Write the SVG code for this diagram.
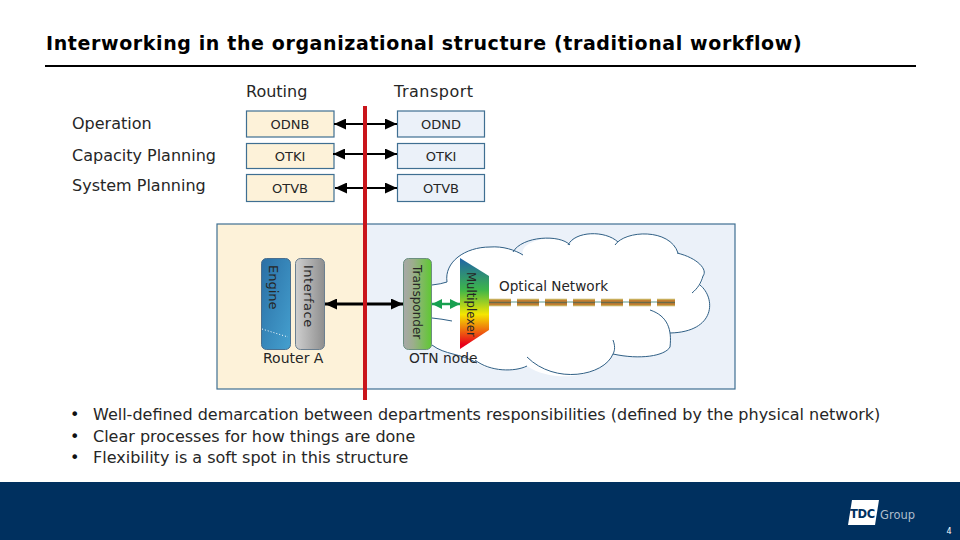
<svg xmlns="http://www.w3.org/2000/svg" width="960" height="540" viewBox="0 0 960 540">
<style>
text{font-family:"DejaVu Sans",Verdana,sans-serif;fill:#262626}
.lab{font-size:16px}
.box{font-size:13px;text-anchor:middle}
.rt{fill:#fdf2d9;stroke:#3f6f92;stroke-width:1.2}
.tr{fill:#ebf1f9;stroke:#3f6f92;stroke-width:1.2}
.arr{stroke:#000;stroke-width:2;fill:none;marker-start:url(#hs);marker-end:url(#he)}
.cl{fill:none;stroke:#2f5f85;stroke-width:1}
.bul{font-size:16px}
.dot{font-size:16px;fill:#111}
</style>
<defs>
<marker id="he" markerUnits="userSpaceOnUse" markerWidth="14" markerHeight="12" refX="12" refY="5.500" orient="auto"><path d="M0 0L12 5.500L0 11Z" fill="#000"/></marker>
<marker id="hs" markerUnits="userSpaceOnUse" markerWidth="14" markerHeight="12" refX="0" refY="5.500" orient="auto"><path d="M12 0L0 5.500L12 11Z" fill="#000"/></marker>
<marker id="ge" markerUnits="userSpaceOnUse" markerWidth="14" markerHeight="12" refX="10" refY="5" orient="auto"><path d="M0 0L10 5L0 10Z" fill="#18a050"/></marker>
<marker id="gs" markerUnits="userSpaceOnUse" markerWidth="14" markerHeight="12" refX="0" refY="5" orient="auto"><path d="M10 0L0 5L10 10Z" fill="#18a050"/></marker>
<linearGradient id="eng" x1="0" y1="0" x2="1" y2="1"><stop offset="0" stop-color="#2a6fa5"/><stop offset="1" stop-color="#45a0cf"/></linearGradient>
<linearGradient id="ifc" x1="0" y1="0" x2="1" y2="0"><stop offset="0" stop-color="#cfcfcf"/><stop offset="1" stop-color="#8e8e8e"/></linearGradient>
<linearGradient id="tsp" x1="0" y1="0" x2="1" y2="0"><stop offset="0" stop-color="#a8a8a8"/><stop offset=".35" stop-color="#9cae8c"/><stop offset="1" stop-color="#5fc832"/></linearGradient>
<linearGradient id="mux" x1="0" y1="0" x2="0" y2="1"><stop offset="0" stop-color="#1f63a8"/><stop offset="0.35" stop-color="#3db54a"/><stop offset="0.62" stop-color="#f5e600"/><stop offset="0.95" stop-color="#e8001a"/></linearGradient>
</defs>

<g id="title">
<text x="46" y="50" style="font-size:19px;font-weight:bold;letter-spacing:.61px;fill:#000">Interworking in the organizational structure (traditional workflow)</text>
<rect x="45" y="65" width="871" height="2" fill="#000"/>
</g>

<g id="row-labels">
<text class="lab" x="246" y="97">Routing</text>
<text class="lab" x="394" y="97" style="letter-spacing:.5px">Transport</text>
<text class="lab" x="72" y="128.500">Operation</text>
<text class="lab" x="72" y="160.500">Capacity Planning</text>
<text class="lab" x="72" y="190.500">System Planning</text>
</g>

<g id="node-odnb"><rect class="rt" x="246.500" y="111" width="87.500" height="26"/><text class="box" x="290" y="129">ODNB</text></g>
<g id="node-odnd"><rect class="tr" x="397.500" y="111" width="87" height="26"/><text class="box" x="441" y="129">ODND</text></g>
<g id="node-otki-r"><rect class="rt" x="246.500" y="143.500" width="87.500" height="25"/><text class="box" x="290" y="161">OTKI</text></g>
<g id="node-otki-t"><rect class="tr" x="397.500" y="143.500" width="87" height="25"/><text class="box" x="441" y="161">OTKI</text></g>
<g id="node-otvb-r"><rect class="rt" x="246.500" y="174.500" width="87.500" height="27"/><text class="box" x="290" y="193">OTVB</text></g>
<g id="node-otvb-t"><rect class="tr" x="397.500" y="174.500" width="87" height="27"/><text class="box" x="441" y="193">OTVB</text></g>

<g id="panels">
<rect x="217" y="224" width="148" height="165" fill="#fdf2d9"/>
<rect x="365" y="224" width="370" height="165" fill="#ebf1f9"/>
<rect x="217" y="224" width="518" height="165" fill="none" stroke="#3f6f92" stroke-width="1.2"/>
</g>

<g id="cloud">
<path d="M432 285L447 282C444 262 465 247 490 247C503 246 515 250 523 255C518 240 560 232 570 245C575 231 605 230 618 242C625 230 670 228 678 253C698 258 708 270 703 276C703 282 700 285 700 285C716 298 716 332 670 333C672 338 671 343 670 347C665 356 640 360 613 354C604 376 555 385 527 366C515 372 490 372 477 363C460 353 445 355 432 345Z" fill="#fff"/>
<path class="cl" d="M432 285Q441 284 447 282C444 262 465 247 490 247C503 246 515 250 523 255"/>
<path class="cl" d="M513 252C522 236 560 234 570 245"/>
<path class="cl" d="M568 245C575 231 605 230 618 242"/>
<path class="cl" d="M615 245C625 230 670 228 678 253"/>
<path class="cl" d="M677 253C698 258 708 270 703 276C701 283 698 288 692 293"/>
<path class="cl" d="M700 285C716 298 716 332 670 333"/>
<path class="cl" d="M650 310C668 316 672 330 670 347C665 356 640 360 613 354"/>
<path class="cl" d="M613 340C616 348 614 352 613 354C604 376 555 385 527 357"/>
<path class="cl" d="M527 366C515 372 490 372 475 360"/>
<path class="cl" d="M432 345C445 355 460 353 477 363"/>
<path class="cl" d="M432 318Q442 319 452 321"/>
</g>

<g id="node-optical-line">
<line x1="489" y1="302" x2="675" y2="302" stroke="#5f9a8c" stroke-width="1.200"/>
<g fill="none" stroke-dasharray="22 6">
<line x1="489" y1="302.500" x2="675" y2="302.500" stroke="#c8ad5a" stroke-width="7.500"/>
<line x1="489" y1="302.500" x2="675" y2="302.500" stroke="#c47f30" stroke-width="5"/>
<line x1="489" y1="302.500" x2="675" y2="302.500" stroke="#6a6a48" stroke-width="1.600"/>
</g>
<text x="499" y="291" style="font-size:13.600px">Optical Network</text>
</g>

<g id="connectors">
<line class="arr" x1="334" y1="124" x2="397" y2="124"/>
<line class="arr" x1="333" y1="154" x2="397" y2="154"/>
<line class="arr" x1="335" y1="188" x2="397" y2="188"/>
<line x1="325" y1="304" x2="403" y2="304" stroke="#000" stroke-width="3" marker-start="url(#hs)" marker-end="url(#he)"/>
<line x1="432" y1="304" x2="460" y2="304" stroke="#18a050" stroke-width="2.500" marker-start="url(#gs)" marker-end="url(#ge)"/>
</g>

<g id="node-engine">
<rect x="261.500" y="258.500" width="29" height="91" rx="5" fill="url(#eng)" stroke="#4a6f8f"/>
<path d="M262 329L288 337" stroke="#fff" stroke-width="1" stroke-dasharray="1 2" fill="none"/>
<text transform="translate(268.500,265) rotate(90)" style="font-size:13px">Engine</text>
</g>
<g id="node-interface">
<rect x="295.500" y="258.500" width="29" height="91" rx="5" fill="url(#ifc)" stroke="#6b7f8f"/>
<text transform="translate(304,265) rotate(90)" style="font-size:13px;letter-spacing:.5px">Interface</text>
</g>
<g id="node-transponder">
<rect x="403.500" y="258.500" width="28" height="91" rx="5" fill="url(#tsp)" stroke="#6b8f7f"/>
<text transform="translate(413,265) rotate(90)" style="font-size:12px">Transponder</text>
</g>
<g id="node-multiplexer">
<path d="M460 258L489 276V330L460 349Z" fill="url(#mux)"/>
<text transform="translate(467,272) rotate(90)" style="font-size:11.700px">Multiplexer</text>
</g>
<text x="263" y="363" style="font-size:14px">Router A</text>
<text x="409" y="363" style="font-size:13.800px">OTN node</text>

<rect id="demarcation" x="363" y="106" width="4" height="294" fill="#c9151b"/>

<g id="bullets">
<text class="dot" x="70" y="420">•</text><text class="bul" x="93" y="420">Well-defined demarcation between departments responsibilities (defined by the physical network)</text>
<text class="dot" x="70" y="442">•</text><text class="bul" x="93" y="442">Clear processes for how things are done</text>
<text class="dot" x="70" y="463">•</text><text class="bul" x="93" y="463">Flexibility is a soft spot in this structure</text>
</g>

<g id="footer">
<rect x="0" y="482" width="960" height="58" fill="#00305f"/>
<path d="M852 500H879L875 525H848Z" fill="#fff"/>
<text x="850" y="518" style="font-size:11.500px;font-weight:bold;fill:#00305f;letter-spacing:-.3px">TDC</text>
<text x="880" y="519" style="font-size:11.500px;fill:#aebccb">Group</text>
<text x="946.500" y="534" style="font-size:8px;fill:#fff">4</text>
</g>
</svg>
